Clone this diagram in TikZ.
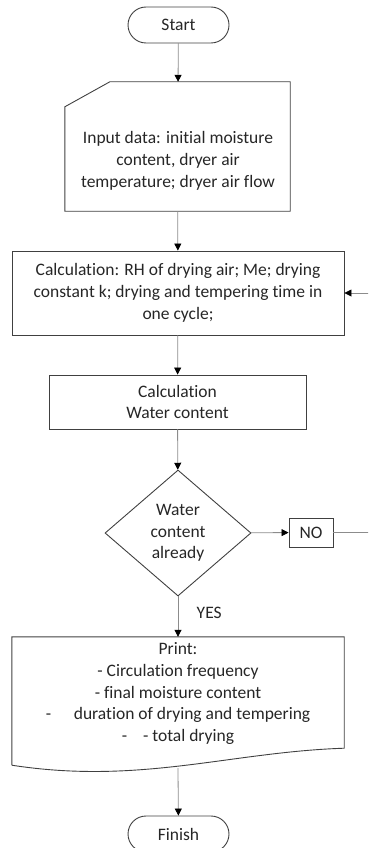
\documentclass[tikz,border=0pt]{standalone}
\usepackage{fontspec}
\setmainfont{Carlito}[Ligatures={NoCommon}]
\usetikzlibrary{shapes.geometric,arrows.meta}

\tikzstyle{texto} = [font=\fontsize{17.5}{21.75}\selectfont, text=black!85, align=center]
\tikzstyle{caixa} = [texto, draw=black!75, line width=0.9pt, inner sep=0pt]
\tikzstyle{terminal} = [caixa, rounded corners=18pt, minimum width=101pt, minimum height=36pt]
\tikzstyle{decisao} = [caixa, diamond, aspect=1.16, minimum width=146pt, minimum height=126pt]
\tikzstyle{ligacao} = [draw=black!45, line width=0.8pt]

\begin{document}
\begin{tikzpicture}[x=1pt, y=-1pt, >={Triangle[width=7pt,length=7pt,black]}]

    \useasboundingbox (0,0) rectangle (368,848);
    \clip (0,0) rectangle (368,848);

    % start
    \node at (178.5,25) [terminal] (start) {Start};

    % input data (manual input)
    \node at (177.5,146.5) [minimum width=225pt, minimum height=129pt, inner sep=0pt] (inp) {};
    \draw [draw=black!75, line width=0.9pt] (inp.south west) -- ([yshift=-25pt]inp.north west) -- ([xshift=45pt]inp.north west) -- (inp.north east) -- (inp.south east) -- cycle;
    \node at (178,161) [texto] (inptxt) {Input data: initial moisture\\ content, dryer air\\ temperature; dryer air flow};

    % calculation
    \node at (178,293) [caixa, minimum width=332pt, minimum height=84pt] (calc) {Calculation: RH of drying air; Me; drying\\ constant k; drying and tempering time in\\ one cycle;};

    \node at (177.5,402) [caixa, minimum width=257pt, minimum height=54pt] (water) {Calculation\\ Water content};

    % decision
    \node at (178,533) [decisao] (dec) {Water\\ content\\ already};
    \node at (311,532.5) [caixa, minimum width=44pt, minimum height=29pt] (no) {NO};
    \coordinate (volta) at (373,532.5);

    % print (document)
    \node at (178,701) [minimum width=332pt, minimum height=128pt, inner sep=0pt] (prt) {};
    \draw [draw=black!75, line width=0.9pt] (prt.south west) -- (prt.north west) -- (prt.north east) -- ([yshift=17pt]prt.south east) .. controls (230,752) and (140,785) .. (prt.south west);
    \node at (178,693.5) [texto] (prttxt) {Print:\\ - Circulation frequency\\ - final moisture content\\ -\hspace{1.3em}duration of drying and tempering\\ -\hspace{0.9em}- total drying};

    % finish
    \node at (178.5,834) [terminal] (finish) {Finish};

    % connectors
    \draw [ligacao, ->] (start) -- (inp);
    \draw [ligacao, ->] (inp) -- (calc);
    \draw [ligacao, ->] (calc) -- (water);
    \draw [ligacao, ->] (water) -- (dec);
    \draw [ligacao, ->] (dec) -- (no);
    \draw [ligacao, ->] (no) -- (volta) |- (calc);
    \draw [ligacao, ->] (dec) -- node [texto, pos=0.4, right=15pt] (yes) {YES} (prt);
    \draw [ligacao, ->] ([yshift=-3pt]prt.south) -- (finish);

\end{tikzpicture}
\end{document}
